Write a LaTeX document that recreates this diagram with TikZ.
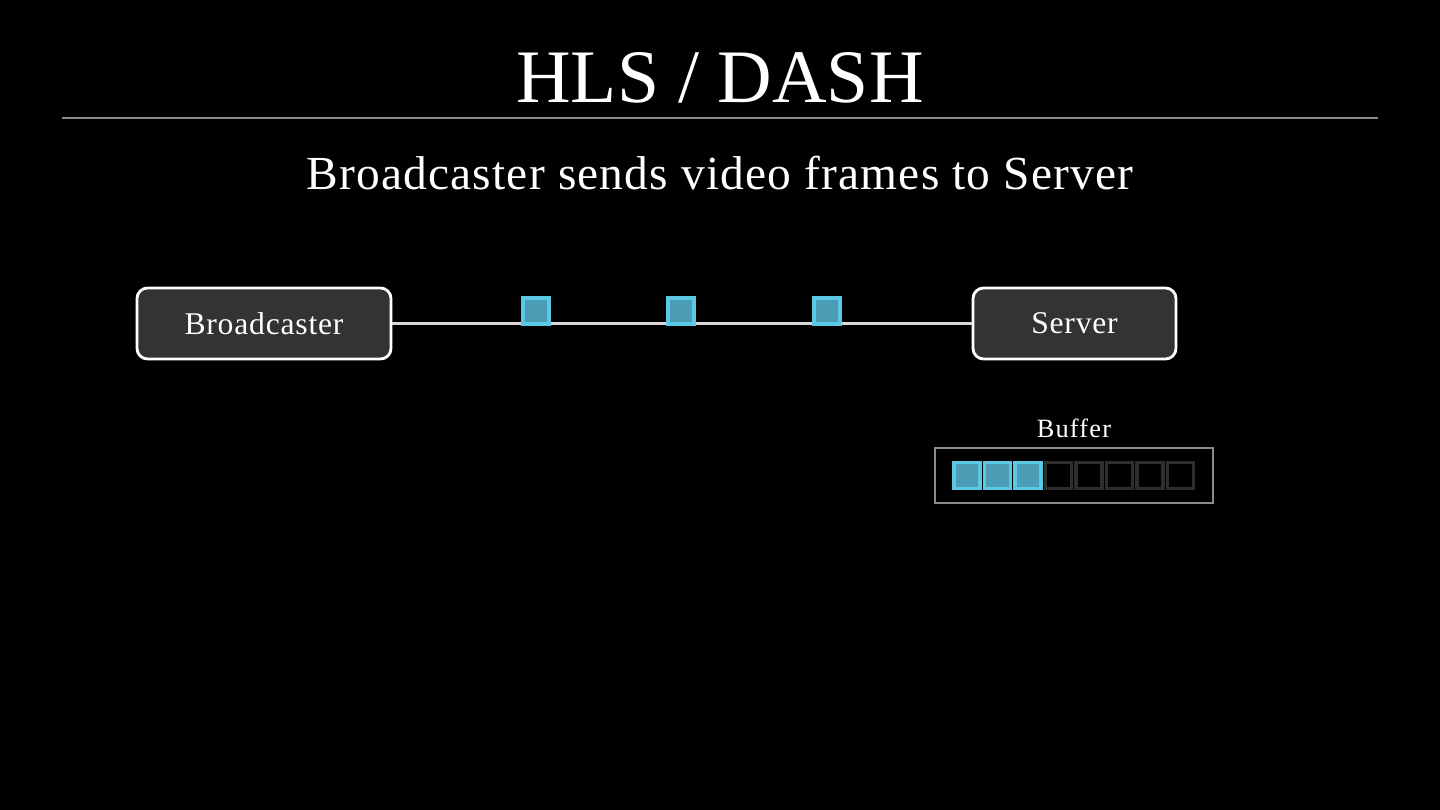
\documentclass[tikz,border=0pt]{standalone}
\usepackage{fontspec}
\setmainfont{Liberation Serif}
\newfontfamily\spacedfont[LetterSpace=2.5]{Liberation Serif}
\newfontfamily\widefont[LetterSpace=4.5]{Liberation Serif}
\usepackage{tikz}
\usetikzlibrary{positioning}

\definecolor{boxfill}{HTML}{333333}
\definecolor{framefill}{HTML}{4A9DB5}
\definecolor{frameedge}{HTML}{5BC8E6}
\definecolor{slotedge}{HTML}{2E2E2E}
\definecolor{rulegray}{HTML}{8A8A8A}

\begin{document}
\begin{tikzpicture}[
    x=0.02cm, y=-0.02cm,
every node/.style={text=white},
endpoint/.style={draw=white, line width=1.6pt, fill=boxfill, rounded corners=6pt,
    minimum height=71*0.02cm, font=\spacedfont\fontsize{18}{20}\selectfont},
frame/.style={draw=frameedge, fill=framefill, line width=2pt, minimum size=26*0.02cm, inner sep=0pt},
slot/.style={draw=slotedge, fill=black, line width=2pt, minimum size=26*0.02cm, inner sep=0pt},
]
\fill[black] (0,0) rectangle (1440,810);
\useasboundingbox (0,0) rectangle (1440,810);

% heading
\node (title) at (720,78) {\fontsize{43}{48}\selectfont HLS / DASH};
\draw[rulegray, line width=0.8pt] (62,118) -- (1378,118);
\node (subtitle) at (720,173) {\spacedfont\fontsize{27}{30}\selectfont Broadcaster sends video frames to Server};

% endpoints
\node[endpoint, minimum width=254*0.02cm] (broadcaster) at (264,323.5) {Broadcaster};
\node[endpoint, minimum width=203*0.02cm] (server) at (1074.5,323.5) {Server};
\draw[white!85!black, line width=1.4pt] (broadcaster) -- (server);

% frames in flight
\foreach \x [count=\i] in {536,681,827}
  \node[frame] (frame\i) at (\x,311) {};

% buffer
\draw[rulegray, line width=1pt, fill=black] (935,448) rectangle (1213,503);
\node (bufferlabel) at (1074,428) {\widefont\fontsize{15}{17}\selectfont Buffer};
\foreach \k in {1,...,8} {
  \pgfmathsetmacro\sx{967+(\k-1)*30.5}
  \ifnum\k<4
    \node[frame] (slot\k) at (\sx,475.5) {};
  \else
    \node[slot] (slot\k) at (\sx,475.5) {};
  \fi
}
\end{tikzpicture}
\end{document}
